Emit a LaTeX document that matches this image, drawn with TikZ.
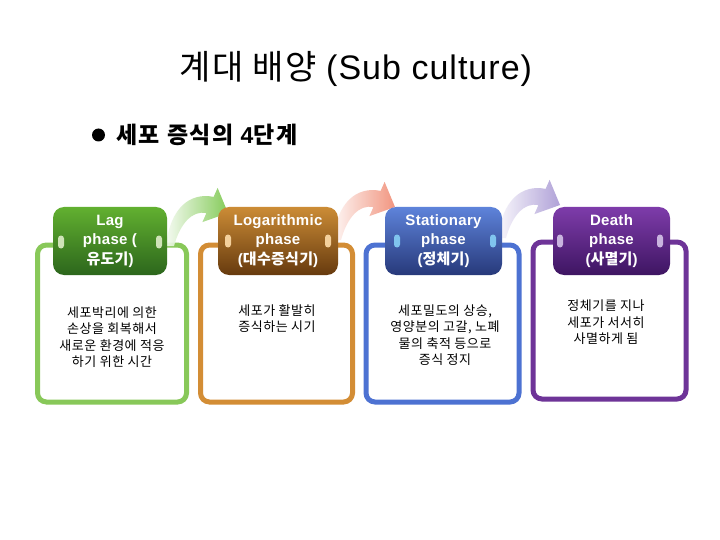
\documentclass[tikz,border=0pt]{standalone}
\usepackage{fontspec}
\setmainfont{Liberation Sans}
\newfontfamily\kr{Noto Sans CJK KR}
\usetikzlibrary{shapes.misc}
\definecolor{gtop}{HTML}{62B030}
\definecolor{gbot}{HTML}{2C661C}
\definecolor{otop}{HTML}{CC8C36}
\definecolor{obot}{HTML}{663A0E}
\definecolor{btop}{HTML}{5E83DA}
\definecolor{bbot}{HTML}{27397A}
\definecolor{ptop}{HTML}{7E3CAA}
\definecolor{pbot}{HTML}{3E1562}
\definecolor{gline}{HTML}{88C859}
\definecolor{oline}{HTML}{D38D35}
\definecolor{bline}{HTML}{4D72D2}
\definecolor{pline}{HTML}{6E3498}
\definecolor{gpill}{HTML}{CFE3B8}
\definecolor{opill}{HTML}{F3D09C}
\definecolor{bpill}{HTML}{80C4EE}
\definecolor{ppill}{HTML}{C9B4DF}
\definecolor{garr}{HTML}{78C648}
\definecolor{rarr}{HTML}{F08A72}
\definecolor{parr}{HTML}{A898D4}
\tikzset{
  outerbox/.style={line width=5pt, rounded corners=9pt, fill=white},
  header/.style={rounded corners=11pt, minimum height=68pt, inner sep=0pt,
    text=white, font=\fontsize{15}{19.5}\selectfont\bfseries\addfontfeature{LetterSpace=2}, align=center},
  pill/.style={rounded rectangle, rounded rectangle arc length=180, shape border rotate=90,
    minimum width=13pt, minimum height=6pt, inner sep=0pt, rotate=90},
  desc/.style={align=center, font=\kr\fontsize{13}{16.5}\selectfont\addfontfeature{LetterSpace=4}, text=black},
}
\newcommand{\bandarrow}[2]{%
  \shade[left color=#2!8, right color=#2, opacity=0.9, shift={#1}]
    (0,0) .. controls (4,-38) and (24,-54) .. (47.6,-49.1)
    -- (51.6,-58.1) -- (62,-33) -- (36.4,-23.9) -- (40.4,-32.9)
    .. controls (26,-36) and (14,-22) .. (8,0) -- cycle;}
\begin{document}
\begin{tikzpicture}[x=1pt,y=-1pt]
\useasboundingbox (0,0) rectangle (720,540);
\fill[white] (0,0) rectangle (720,540);
% title
\node (title) at (356,69) {\fontsize{34}{40}\selectfont{\kr\addfontfeature{LetterSpace=4}계대 배양} {\addfontfeature{LetterSpace=3}(Sub culture)}};
% bullet
\fill (98.5,135) circle (6.5pt);
\node[anchor=west, inner sep=0pt] (sub) at (116,135)
  {\fontsize{23}{27}\selectfont\bfseries\addfontfeature{LetterSpace=7}{\kr\addfontfeature{LetterSpace=7}세포 증식의 }4{\kr\addfontfeature{LetterSpace=7}단계}};
% outer boxes
\draw[outerbox, draw=gline] (37.5,245) rectangle (186.5,402);
\draw[outerbox, draw=oline] (200.5,245) rectangle (352.5,402);
\draw[outerbox, draw=bline] (366,245) rectangle (519,402);
\draw[outerbox, draw=pline] (533,242) rectangle (686,399);
% arrows
\bandarrow{(166,246)}{garr}
\bandarrow{(333,240)}{rarr}
\bandarrow{(498,238)}{parr}
% headers
\node[header, minimum width=114pt, top color=gtop, bottom color=gbot] (h1) at (110,241)
  {Lag\\phase (\\{\kr\addfontfeature{LetterSpace=2}유도기})};
\node[header, minimum width=120pt, top color=otop, bottom color=obot] (h2) at (278,241)
  {Logarithmic\\phase\\({\kr\addfontfeature{LetterSpace=2}대수증식기})};
\node[header, minimum width=117pt, top color=btop, bottom color=bbot] (h3) at (443.5,241)
  {Stationary\\phase\\({\kr\addfontfeature{LetterSpace=2}정체기})};
\node[header, minimum width=117pt, top color=ptop, bottom color=pbot] (h4) at (611.5,241)
  {Death\\phase\\({\kr\addfontfeature{LetterSpace=2}사멸기})};
% pills
\node[pill, fill=gpill] (p1a) at (61,242) {};
\node[pill, fill=gpill] (p1b) at (159,242) {};
\node[pill, fill=opill] (p2a) at (228,241) {};
\node[pill, fill=opill] (p2b) at (328,241) {};
\node[pill, fill=bpill] (p3a) at (397,241) {};
\node[pill, fill=bpill] (p3b) at (493,241) {};
\node[pill, fill=ppill] (p4a) at (560,241) {};
\node[pill, fill=ppill] (p4b) at (660,241) {};
% descriptions
\node[desc] (d1) at (112,337) {세포박리에 의한\\손상을 회복해서\\새로운 환경에 적응\\하기 위한 시간};
\node[desc] (d2) at (277,318.5) {세포가 활발히\\증식하는 시기};
\node[desc] (d3) at (445,335) {세포밀도의 상승,\\영양분의 고갈, 노폐\\물의 축적 등으로\\증식 정지};
\node[desc] (d4) at (606,322.5) {정체기를 지나\\세포가 서서히\\사멸하게 됨};
\end{tikzpicture}
\end{document}
